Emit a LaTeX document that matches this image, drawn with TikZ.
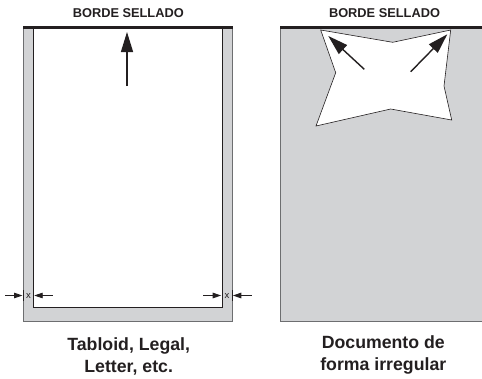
\documentclass[tikz,border=0pt]{standalone}
\usepackage{fontspec}
\setmainfont{Liberation Sans}
\usetikzlibrary{arrows.meta}
\definecolor{paper}{HTML}{D2D3D5}
\definecolor{edge}{HTML}{6D6E70}
\definecolor{ink}{HTML}{231F20}
\tikzset{
  sealtext/.style={font=\bfseries\fontsize{12.8}{14}\selectfont, text=ink, anchor=base, inner sep=0pt},
  caption/.style={font=\bfseries\fontsize{17.7}{21.7}\selectfont, text=ink, align=center, inner sep=0pt},
  bigarrow/.style={draw=ink, line width=1.4pt, -{Triangle[length=20pt,width=12pt]}},
  smallarrow/.style={draw=ink, line width=0.9pt, -{Triangle[length=8.5pt,width=5.5pt]}},
  sealline/.style={draw=ink, line width=3pt},
  tick/.style={draw=ink, line width=0.8pt},
  xlabel/.style={font=\fontsize{9.5}{10}\selectfont, text=ink, inner sep=0pt},
}
\begin{document}
\begin{tikzpicture}[x=1pt,y=-1pt]
\useasboundingbox (0,0) rectangle (482,378);
% ---------- left panel ----------
\filldraw[fill=paper, draw=edge, line width=0.8pt] (23.3,27) rectangle (232,321.7);
\filldraw[fill=white, draw=ink, line width=0.7pt] (33.3,27) rectangle (222,307);
\draw[sealline] (23,27) -- (232.5,27);
\node[sealtext] (sealL) at (128.3,17.3) {BORDE SELLADO};
\coordinate (upA) at (127,86);
\coordinate (upB) at (127,32);
\draw[bigarrow] (upA) -- (upB);
% x markers
\draw[tick] (23.3,290) -- (23.3,301);
\draw[tick] (33.3,290) -- (33.3,301);
\draw[tick] (222,290) -- (222,301);
\draw[tick] (232,290) -- (232,301);
\node[xlabel] (xL) at (28.6,295.5) {x};
\node[xlabel] (xR) at (227,295.5) {x};
\coordinate (a1) at (5,295.5);   \coordinate (a1t) at (22.5,295.5);
\coordinate (a2) at (52.7,295.5); \coordinate (a2t) at (34.2,295.5);
\coordinate (a3) at (203.3,295.5); \coordinate (a3t) at (221.2,295.5);
\coordinate (a4) at (251.7,295.5); \coordinate (a4t) at (232.8,295.5);
\draw[smallarrow] (a1) -- (a1t);
\draw[smallarrow] (a2) -- (a2t);
\draw[smallarrow] (a3) -- (a3t);
\draw[smallarrow] (a4) -- (a4t);
\node[caption] (capL) at (128.7,356.3) {Tabloid, Legal,\\Letter, etc.};
% ---------- right panel ----------
\fill[paper] (280,27) rectangle (482,321.7);
\draw[edge, line width=0.8pt] (280,27) -- (280,321.7) -- (482,321.7);
\draw[sealline] (280,27) -- (482,27);
\node[sealtext] (sealR) at (384.5,17.3) {BORDE SELLADO};
\filldraw[fill=white, draw=ink, line width=0.6pt]
  (320.7,30) -- (392.7,42.3) -- (450.7,30) -- (444,86) -- (451.7,120)
  -- (390.7,109) -- (316,126) -- (335.7,72.7) -- cycle;
\coordinate (dA) at (364.3,69.3); \coordinate (dAt) at (328.3,36);
\coordinate (dB) at (410.7,71.7); \coordinate (dBt) at (447.3,34.3);
\draw[bigarrow] (dA) -- (dAt);
\draw[bigarrow] (dB) -- (dBt);
\node[caption] (capR) at (383.3,355) {Documento de\\forma irregular};
\end{tikzpicture}
\end{document}
